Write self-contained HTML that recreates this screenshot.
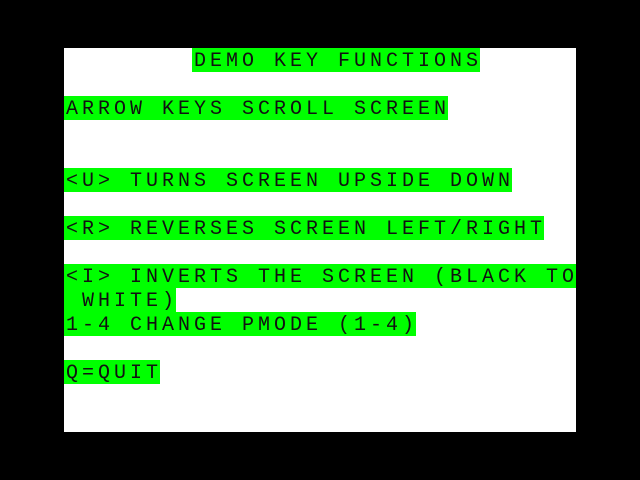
<!DOCTYPE html>
<html><head><meta charset="utf-8"><style>
html,body{margin:0;padding:0;background:#000;width:640px;height:480px;overflow:hidden}
#scr{position:absolute;left:64px;top:48px;width:512px;height:384px;background:#fff}
.r{position:absolute;height:24px;background:#0f0;color:#111;font-family:"Liberation Mono",monospace;font-size:20px;line-height:24px;padding-top:2px;letter-spacing:4px;white-space:pre;padding-left:2px;box-sizing:border-box;overflow:hidden}
</style></head><body>
<div id="scr">
<div class="r" style="left:128px;top:0;width:288px">DEMO KEY FUNCTIONS</div>
<div class="r" style="left:0;top:48px;width:384px">ARROW KEYS SCROLL SCREEN</div>
<div class="r" style="left:0;top:120px;width:448px">&lt;U&gt; TURNS SCREEN UPSIDE DOWN</div>
<div class="r" style="left:0;top:168px;width:480px">&lt;R&gt; REVERSES SCREEN LEFT/RIGHT</div>
<div class="r" style="left:0;top:216px;width:512px">&lt;I&gt; INVERTS THE SCREEN (BLACK TO</div>
<div class="r" style="left:0;top:240px;width:112px"> WHITE)</div>
<div class="r" style="left:0;top:264px;width:352px">1-4 CHANGE PMODE (1-4)</div>
<div class="r" style="left:0;top:312px;width:96px">Q=QUIT</div>
</div>
</body></html>
